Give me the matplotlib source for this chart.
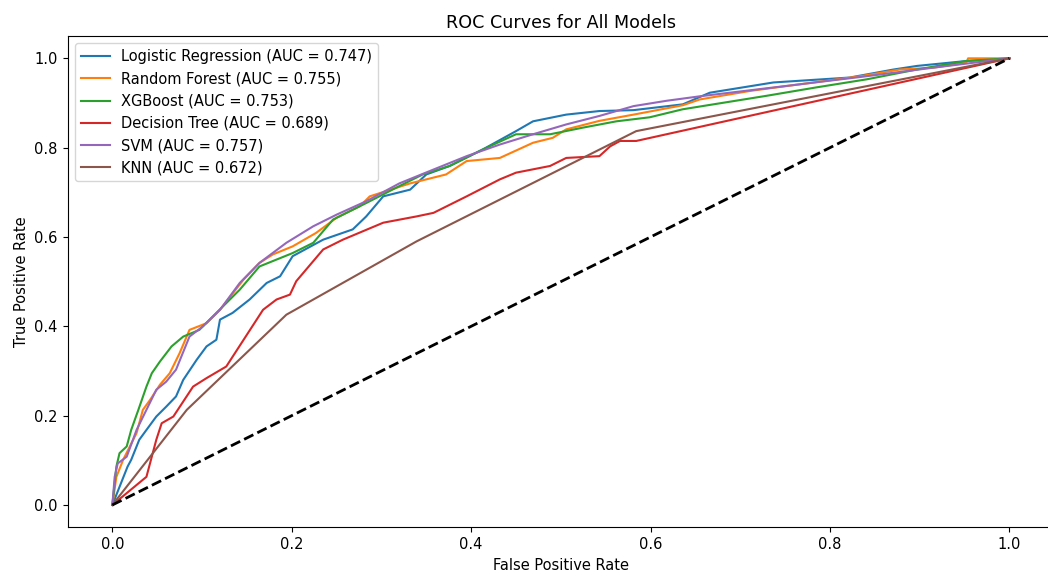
import numpy as np
import matplotlib
matplotlib.use('Agg')
import matplotlib.pyplot as plt

# ROC points (fpr, tpr)
lr_fpr = [0, 0.017, 0.021, 0.030, 0.038, 0.049, 0.060, 0.071, 0.079, 0.094, 0.105, 0.116, 0.120, 0.134,
          0.153, 0.172, 0.187, 0.201, 0.235, 0.268, 0.283, 0.302, 0.332, 0.350, 0.376, 0.413, 0.450,
          0.469, 0.506, 0.543, 0.581, 0.636, 0.666, 0.737, 0.822, 0.871, 0.897, 0.952, 1.0]
lr_tpr = [0, 0.086, 0.101, 0.146, 0.168, 0.198, 0.220, 0.243, 0.280, 0.325, 0.355, 0.370, 0.415, 0.430,
          0.460, 0.497, 0.512, 0.557, 0.594, 0.617, 0.646, 0.691, 0.706, 0.740, 0.759, 0.796, 0.837,
          0.859, 0.874, 0.882, 0.884, 0.897, 0.923, 0.946, 0.957, 0.975, 0.983, 0.994, 1.0]

rf_fpr = [0, 0.0045, 0.012, 0.027, 0.034, 0.042, 0.053, 0.064, 0.075, 0.086, 0.105, 0.120, 0.146, 0.164,
          0.179, 0.201, 0.227, 0.250, 0.276, 0.287, 0.332, 0.372, 0.395, 0.432, 0.469, 0.491, 0.506,
          0.543, 0.581, 0.636, 0.655, 0.711, 0.767, 0.834, 0.878, 0.915, 0.952, 0.954, 1.0]
rf_tpr = [0, 0.063, 0.101, 0.161, 0.213, 0.235, 0.269, 0.295, 0.340, 0.392, 0.407, 0.437, 0.504, 0.542,
          0.561, 0.579, 0.609, 0.643, 0.669, 0.691, 0.720, 0.740, 0.770, 0.777, 0.811, 0.822, 0.841,
          0.860, 0.874, 0.895, 0.908, 0.927, 0.942, 0.960, 0.975, 0.979, 0.990, 1.0, 1.0]

xgb_fpr = [0, 0.0045, 0.008, 0.016, 0.021, 0.029, 0.038, 0.044, 0.053, 0.066, 0.079, 0.097, 0.116,
           0.142, 0.164, 0.201, 0.224, 0.246, 0.283, 0.320, 0.346, 0.376, 0.413, 0.450, 0.488, 0.525,
           0.562, 0.599, 0.636, 0.729, 0.785, 0.841, 0.897, 0.952, 1.0]
xgb_tpr = [0, 0.086, 0.116, 0.131, 0.168, 0.213, 0.265, 0.295, 0.321, 0.355, 0.377, 0.392, 0.430,
           0.482, 0.534, 0.564, 0.587, 0.639, 0.676, 0.714, 0.740, 0.759, 0.796, 0.830, 0.830, 0.845,
           0.859, 0.868, 0.886, 0.916, 0.935, 0.953, 0.975, 0.994, 1.0]

dt_fpr = [0, 0.038, 0.049, 0.055, 0.068, 0.090, 0.105, 0.127, 0.168, 0.183, 0.198, 0.205, 0.235,
          0.257, 0.302, 0.339, 0.358, 0.395, 0.432, 0.450, 0.488, 0.506, 0.543, 0.555, 0.566, 0.584, 1.0]
dt_tpr = [0, 0.063, 0.146, 0.183, 0.198, 0.265, 0.284, 0.310, 0.437, 0.460, 0.471, 0.501, 0.572,
          0.594, 0.632, 0.646, 0.654, 0.691, 0.729, 0.744, 0.759, 0.777, 0.781, 0.803, 0.815, 0.815, 1.0]

svm_fpr = [0, 0.0026, 0.006, 0.016, 0.027, 0.038, 0.049, 0.060, 0.071, 0.086, 0.101, 0.120, 0.142,
           0.164, 0.194, 0.224, 0.250, 0.283, 0.320, 0.358, 0.395, 0.432, 0.469, 0.506, 0.543, 0.581,
           0.618, 0.655, 0.767, 0.841, 0.915, 1.0]
svm_tpr = [0, 0.063, 0.093, 0.108, 0.168, 0.213, 0.258, 0.276, 0.303, 0.377, 0.400, 0.437, 0.497,
           0.542, 0.587, 0.624, 0.650, 0.680, 0.720, 0.751, 0.781, 0.807, 0.830, 0.852, 0.871, 0.893,
           0.905, 0.915, 0.942, 0.960, 0.979, 1.0]

knn_fpr = [0, 0.083, 0.194, 0.339, 0.584, 1.0]
knn_tpr = [0, 0.213, 0.426, 0.590, 0.837, 1.0]

models = ['Logistic Regression', 'Random Forest', 'XGBoost', 'Decision Tree', 'SVM', 'KNN']
aucs = [0.747, 0.755, 0.753, 0.689, 0.757, 0.672]
curves = [(lr_fpr, lr_tpr), (rf_fpr, rf_tpr), (xgb_fpr, xgb_tpr),
          (dt_fpr, dt_tpr), (svm_fpr, svm_tpr), (knn_fpr, knn_tpr)]

plt.rcParams['font.size'] = 10.5

fig = plt.figure(figsize=(10.48, 5.71), dpi=100)
# the reference is cropped on the right, so the axes run past the figure edge
ax = fig.add_axes([67.5 / 1048, 43.7 / 571, 986.7 / 1048, 491.3 / 571])

for name, auc, (fpr, tpr) in zip(models, aucs, curves):
    ax.plot(fpr, tpr, lw=1.5, label=f'{name} (AUC = {auc:.3f})')

ax.plot([0, 1], [0, 1], 'k--', lw=2)
ax.set_xlim(-0.05, 1.05)
ax.set_ylim(-0.05, 1.05)
ax.set_xlabel('False Positive Rate')
ax.set_ylabel('True Positive Rate')
ax.set_title('ROC Curves for All Models')
ax.legend(loc='upper left')

fig.savefig('out.png', dpi=100)
